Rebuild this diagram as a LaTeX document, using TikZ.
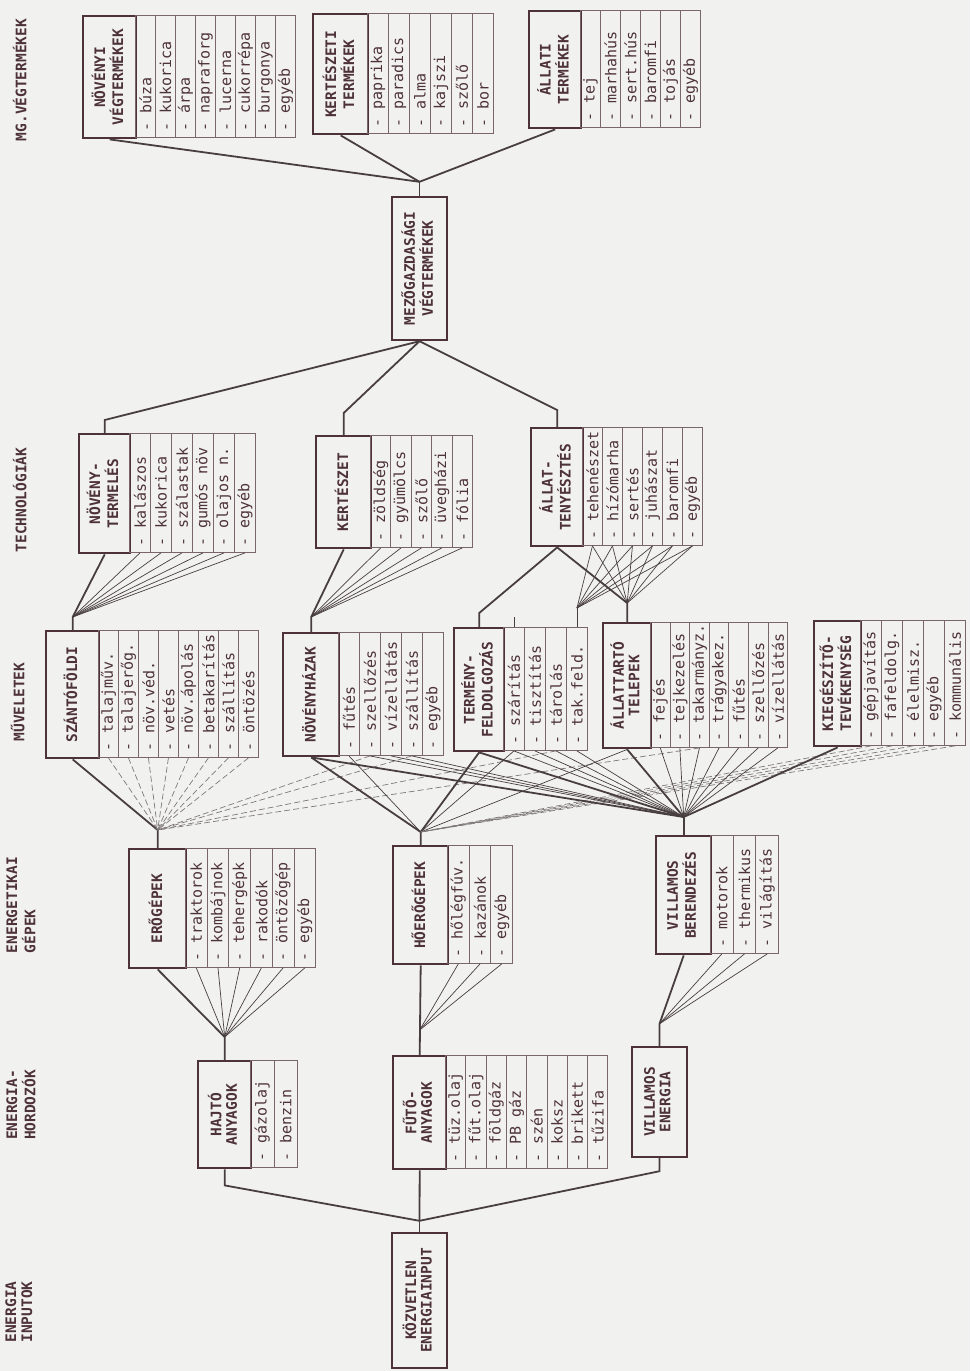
\documentclass[tikz,border=0pt]{standalone}
\usepackage{fontspec}
\setmonofont{DejaVu Sans Mono}
\usepackage{graphicx}
\usepackage{tikz}
\usetikzlibrary{calc}

\definecolor{paper}{RGB}{241,241,240}
\definecolor{ink}{RGB}{78,50,58}
\definecolor{wire}{RGB}{72,62,64}

\newlength\itmlen
\newcommand\hd[1]{\rotatebox{90}{\begin{tabular}{@{}c@{}}#1\end{tabular}}}
\newcommand\lv[1]{\rotatebox{90}{\begin{tabular}{@{}l@{}}#1\end{tabular}}}
\newcommand\itm[2]{\pgfmathsetlength\itmlen{#1}\rotatebox{90}{\makebox[\itmlen][l]{#2}}}
% header box + item columns to its right
\newcommand\grp[8]{%
  \node[head, anchor=north west, minimum width=#5, minimum height=#4-#3] (#1) at (#2,#3) {\hd{#7}};
  \foreach \w [count=\i] in {#8}
    \node[item, anchor=north west, minimum width=#6, minimum height=#4-#3] (#1-\i) at ({#2+#5+#6*(\i-1)},#3) {\itm{#4-#3-12}{- \w}};
}

\begin{document}
\begin{tikzpicture}[x=1pt, y=-1pt,
    head/.style={draw=ink, line width=2.4pt, fill=paper, inner sep=0pt, text=ink,
      font=\fontsize{14.5}{15.5}\selectfont\ttfamily\bfseries},
    item/.style={draw=ink!75, line width=0.9pt, inner sep=0pt, text=ink,
      font=\fontsize{15}{16}\selectfont\ttfamily},
    level/.style={inner sep=0pt, text=ink, font=\fontsize{14.5}{16}\selectfont\ttfamily\bfseries},
    main/.style={wire, line width=1.8pt},
    fine/.style={wire, line width=0.7pt},
    faint/.style={wire!70, line width=0.7pt, dash pattern=on 6pt off 3pt}]
    % Paper
    \fill[paper] (0,0) rectangle (970,1371);
    \useasboundingbox (0,0) rectangle (970,1371);
    % Level labels
    \node[level] (lv1) at (22,80) {\lv{MG.VÉGTERMÉKEK}};
    \node[level] (lv2) at (22,500) {\lv{TECHNOLÓGIÁK}};
    \node[level] (lv3) at (20,702) {\lv{MŰVELETEK}};
    \node[level] (lv4) at (23,905) {\lv{ENERGETIKAI\\GÉPEK}};
    \node[level] (lv5) at (23,1105) {\lv{ENERGIA-\\HORDOZÓK}};
    \node[level] (lv6) at (21,1312) {\lv{ENERGIA\\INPUTOK}};
    % MG. vegtermekek
    \grp{nvt}{82}{15}{137}{53}{20}{NÖVÉNYI\\VÉGTERMÉKEK}{búza,kukorica,árpa,napraforg,lucerna,cukorrépa,burgonya,egyéb}
    \grp{ktt}{312}{13}{133}{55}{21}{KERTÉSZETI\\TERMÉKEK}{paprika,paradics,alma,kajszi,szőlő,bor}
    \grp{alt}{528}{10}{127}{52}{20}{ÁLLATI\\TERMÉKEK}{tej,marhahús,sert.hús,baromfi,tojás,egyéb}
    \node[head, minimum width=55, minimum height=143] (mezo) at (419.5,268.5) {\hd{MEZŐGAZDASÁGI\\VÉGTERMÉKEK}};
    % Technologiak
    \grp{nov}{78}{433}{552}{51}{21}{NÖVÉNY-\\TERMELÉS}{kalászos,kukorica,szálastak,gumós növ,olajos n.,egyéb}
    \grp{ker}{315}{435}{547}{55}{20.4}{KERTÉSZET}{zöldség,gyümölcs,szőlő,üvegházi,fólia}
    \grp{all}{530}{427}{545}{52}{20}{ÁLLAT-\\TENYÉSZTÉS}{tehenészet,hízómarha,sertés,juhászat,baromfi,egyéb}
    % Muveletek
    \grp{szf}{45}{630}{757}{53}{20}{SZÁNTÓFÖLDI}{talajműv.,talajerőg.,növ.véd.,vetés,növ.ápolás,betakarítás,szállítás,öntözés}
    \grp{nhz}{282}{632}{755}{56}{21}{NÖVÉNYHÁZAK}{fűtés,szellőzés,vízellátás,szállítás,egyéb}
    \grp{tfe}{453}{627}{750}{50}{21}{TERMÉNY-\\FELDOLGOZÁS}{szárítás,tisztítás,tárolás,tak.feld.}
    \grp{att}{602}{622}{747}{48}{19.6}{ÁLLATTARTÓ\\TELEPEK}{fejés,tejkezelés,takarmányz.,trágyakez.,fűtés,szellőzés,vízellátás}
    \grp{kie}{813}{620}{745}{47}{21}{KIEGÉSZÍTŐ-\\TEVÉKENYSÉG}{gépjavítás,fafeldolg.,élelmisz.,egyéb,kommunális}
    % Energetikai gepek
    \grp{ero}{128}{848}{967}{57}{21.7}{ERŐGÉPEK}{traktorok,kombájnok,tehergépk,rakodók,öntözőgép,egyéb}
    \grp{hoe}{392}{845}{963}{55}{21.7}{HŐERŐGÉPEK}{hőlégfúv.,kazánok,egyéb}
    \grp{vib}{655}{835}{953}{55}{22.7}{VILLAMOS\\BERENDEZÉS}{motorok,thermikus,világítás}
    % Energiahordozok
    \grp{haj}{197}{1060}{1167}{53}{23.5}{HAJTÓ\\ANYAGOK}{gázolaj,benzin}
    \grp{fut}{392}{1055}{1168}{53}{20.3}{FŰTŐ-\\ANYAGOK}{tüz.olaj,fűt.olaj,földgáz,PB gáz,szén,koksz,brikett,tűzifa}
    \node[head, minimum width=55, minimum height=110] (vie) at (659.5,1102) {\hd{VILLAMOS\\ENERGIA}};
    % Energiainput
    \node[head, minimum width=55, minimum height=135] (kei) at (419.5,1300.5) {\hd{KÖZVETLEN\\ENERGIAINPUT}};

    % Junctions
    \coordinate (jtop) at ([yshift=14pt]mezo.north);
    \coordinate (jszf) at ([yshift=13pt]szf.north);
    \coordinate (jnhz) at ([yshift=15pt]nhz.north);
    \coordinate (jtfe) at ([yshift=14pt]tfe.north);
    \coordinate (jtak) at ([yshift=19pt]tfe-4.north);
    \coordinate (jatt) at ([yshift=19pt]att.north);
    \coordinate (stub) at ([yshift=10pt]tfe-1.north);
    \coordinate (jero) at ([yshift=18pt]ero.north);
    \coordinate (jhoe) at ([yshift=13pt]hoe.north);
    \coordinate (jvib) at ([yshift=18pt]vib.north);
    \coordinate (jhaj) at ([yshift=23pt]haj.north);
    \coordinate (jfut) at ([yshift=25pt]fut.north);
    \coordinate (jvie) at ([yshift=22pt]vie.north);
    \coordinate (jkei) at ([yshift=11pt]kei.north);

    % Vegtermekek
    \draw[main] (nvt.south) -- (jtop);
    \draw[main] (ktt.south) -- (jtop);
    \draw[main] (alt.south) -- (jtop);
    \draw[main] (jtop) -- (mezo.north);
    \draw[main] (mezo.south) -- ([yshift=13pt]nov.north) -- (nov.north);
    \draw[main] (mezo.south) -- ([yshift=22pt]ker.north) -- (ker.north);
    \draw[main] (mezo.south) -- ([yshift=17pt]all.north) -- (all.north);
    % Technologiak -- muveletek
    \draw[main] (nov.south) -- (jszf) -- (szf.north);
    \foreach \i in {1,...,6} \draw[fine] (nov-\i.south) -- (jszf);
    \draw[main] (ker.south) -- (jnhz) -- (nhz.north);
    \foreach \i in {1,...,5} \draw[fine] (ker-\i.south) -- (jnhz);
    \draw[main] (all.south) -- (jtfe) -- (tfe.north);
    \draw[fine] (stub) -- (tfe-1.north);
    \draw[main] (all.south) -- (jatt) -- (att.north);
    \foreach \i in {1,...,6} {
        \draw[fine] (all-\i.south) -- (jtak);
        \draw[fine] (all-\i.south) -- (jatt);
    }
    \draw[fine] (jtak) -- (tfe-4.north);
    % Muveletek -- gepek
    \draw[main] (szf.south) -- (jero) -- (ero.north);
    \foreach \i in {1,...,8} \draw[faint] (szf-\i.south) -- (jero);
    \foreach \n in {nhz-2,nhz-4,tfe-3,att-3} \draw[faint] (\n.south) -- (jero);
    \draw[main] (nhz.south) -- (jhoe) -- (hoe.north);
    \draw[main] (tfe.south) -- (jhoe);
    \foreach \n in {nhz-1,tfe-1,att} \draw[fine] (\n.south) -- (jhoe);
    \foreach \i in {1,...,5} \draw[faint] (kie-\i.south) -- (jhoe);
    \foreach \n in {nhz,tfe,att,kie} \draw[main] (\n.south) -- (jvib);
    \foreach \n in {nhz-2,nhz-3,nhz-4,tfe-1,tfe-2,tfe-3,tfe-4,att-1,att-2,att-3,att-4,att-5,att-6,att-7}
        \draw[fine] (\n.south) -- (jvib);
    \draw[main] (jvib) -- (vib.north);
    % Gepek -- energiahordozok
    \draw[main] (ero.south) -- (jhaj) -- (haj.north);
    \foreach \i in {1,...,6} \draw[fine] (ero-\i.south) -- (jhaj);
    \draw[main] (hoe.south) -- (fut.north);
    \foreach \i in {1,...,3} \draw[fine] (hoe-\i.south) -- (jfut);
    \draw[main] (vib.south) -- (jvie) -- (vie.north);
    \foreach \i in {1,...,3} \draw[fine] (vib-\i.south) -- (jvie);
    % Energiahordozok -- input
    \draw[main] (haj.south) -- ([yshift=-16pt]haj.south) -- (jkei);
    \draw[main] (fut.south) -- (jkei);
    \draw[main] (vie.south) -- ([yshift=-13pt]vie.south) -- (jkei);
    \draw[main] (jkei) -- (kei.north);
\end{tikzpicture}
\end{document}
